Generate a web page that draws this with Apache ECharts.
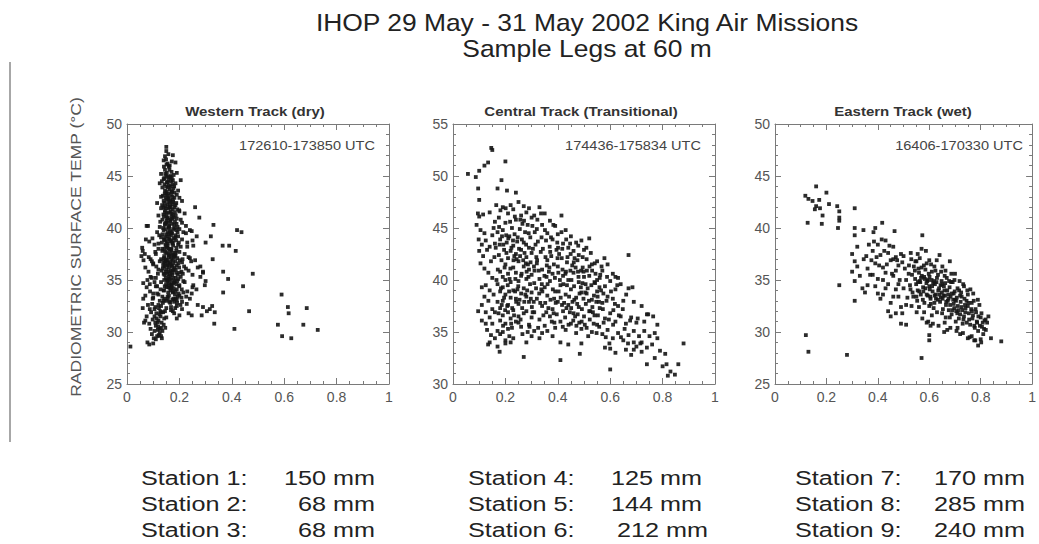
<!DOCTYPE html>
<html>
<head>
<meta charset="utf-8">
<script src="https://cdn.jsdelivr.net/npm/echarts@6/dist/echarts.min.js"></script>
<style>
html,body{margin:0;padding:0;background:#fff;}
#chart{width:1039px;height:544px;}
</style>
</head>
<body>
<div id="chart"></div>
<script>
// ---------------- DATA ----------------
const titleLines = ["IHOP 29 May - 31 May 2002 King Air Missions", "Sample Legs at 60 m"];
const yAxisName = "RADIOMETRIC SURFACE TEMP (\u00B0C)";
const panelTitles = ["Western Track (dry)", "Central Track (Transitional)", "Eastern Track (wet)"];
const utcLabels = ["172610-173850 UTC", "174436-175834 UTC", "16406-170330 UTC"];
const xTicks = [0, 0.2, 0.4, 0.6, 0.8, 1];
const yMins = [25, 30, 25];
const yMaxs = [50, 55, 50];
const stationNames = [["Station 1:", "Station 2:", "Station 3:"], ["Station 4:", "Station 5:", "Station 6:"], ["Station 7:", "Station 8:", "Station 9:"]];
const stationAmounts = [["150 mm", "68 mm", "68 mm"], ["125 mm", "144 mm", "212 mm"], ["170 mm", "285 mm", "240 mm"]];

const westTrack = [
[0.15,47.8],[0.15,47.4],[0.145,46.9],[0.14,46.5],[0.155,46.2],[0.16,45.9],[0.145,45.6],[0.17,45.4],[0.13,45.2],[0.15,45.0],[0.165,44.9],[0.175,44.6],[0.14,44.7],[0.125,44.3],[0.155,44.4],[0.16,44.1],[0.18,44.0],[0.135,43.9],[0.145,43.6],[0.17,43.5],[0.15,43.3],[0.19,43.2],[0.13,43.0],[0.16,42.9],[0.175,42.7],[0.14,42.6],[0.115,42.4],[0.155,42.3],[0.185,42.2],[0.165,42.0],[0.13,41.9],[0.145,41.7],[0.2,41.6],[0.16,41.5],[0.175,41.3],[0.12,41.2],[0.15,41.1],[0.19,40.9],[0.135,40.8],[0.165,40.7],[0.21,40.5],[0.145,40.4],[0.18,40.3],[0.125,40.1],[0.16,40.0],[0.2,39.9],[0.14,39.8],[0.17,39.6],[0.225,39.5],[0.15,39.4],[0.185,39.3],[0.13,39.1],[0.16,39.0],[0.21,38.9],[0.145,38.8],[0.175,38.6],[0.12,38.5],[0.195,38.4],[0.155,38.3],[0.23,38.2],[0.135,38.0],[0.17,37.9],[0.2,37.7],[0.15,37.6],[0.11,37.5],[0.185,37.4],[0.16,37.2],[0.24,37.1],[0.13,37.0],[0.175,36.9],[0.21,36.7],[0.145,36.6],[0.1,36.5],[0.19,36.4],[0.16,36.2],[0.225,36.1],[0.12,36.0],[0.175,35.9],[0.2,35.7],[0.14,35.6],[0.25,35.5],[0.165,35.4],[0.09,35.3],[0.185,35.2],[0.155,35.0],[0.215,34.9],[0.13,34.8],[0.17,34.6],[0.2,34.5],[0.11,34.4],[0.16,34.3],[0.19,34.1],[0.14,34.0],[0.23,33.9],[0.175,33.8],[0.12,33.6],[0.2,33.5],[0.155,33.4],[0.1,33.3],[0.185,33.2],[0.14,33.0],[0.21,32.9],[0.165,32.8],[0.12,32.6],[0.19,32.5],[0.15,32.3],[0.105,32.2],[0.175,32.0],[0.13,31.9],
[0.152,45.3],[0.171,44.8],[0.143,44.2],[0.163,43.7],[0.181,43.4],[0.137,43.1],[0.158,42.8],[0.176,42.5],[0.146,42.1],[0.192,41.8],[0.167,41.6],[0.139,41.3],[0.154,40.9],[0.183,40.6],[0.161,40.2],[0.147,39.9],[0.172,39.5],[0.195,39.2],[0.141,38.9],[0.166,38.7],[0.153,38.1],[0.188,37.8],[0.142,37.3],[0.169,37.0],[0.157,36.5],[0.182,36.2],[0.148,35.8],[0.173,35.5],[0.196,35.1],[0.161,34.7],[0.144,34.4],[0.178,34.2],
[0.149,44.0],[0.158,44.6],[0.168,43.2],[0.147,42.9],[0.173,42.3],[0.159,41.9],[0.186,41.2],[0.151,40.7],[0.171,40.4],[0.138,40.0],[0.164,39.7],[0.184,39.1],[0.155,38.5],[0.176,38.3],[0.146,37.7],[0.161,37.5],[0.192,37.1],[0.151,36.8],[0.171,36.4],[0.137,36.1],[0.188,35.7],[0.159,35.3],[0.142,35.0],[0.181,34.8],[0.166,34.0],[0.197,33.7],
[0.162,45.6],[0.141,45.9],[0.178,45.1],[0.157,44.9],[0.133,44.5],[0.185,44.3],[0.166,44.0],[0.151,43.5],[0.174,43.0],[0.143,42.4],[0.162,42.0],[0.199,41.7],[0.178,41.0],[0.149,40.5],[0.193,40.1],[0.168,39.3],[0.145,39.1],[0.187,38.8],[0.159,38.0],[0.174,37.6],[0.141,37.1],[0.202,36.9],[0.163,36.7],[0.178,36.0],[0.153,35.6],[0.205,35.3],[0.168,35.0],[0.188,34.6],[0.151,34.3],[0.174,33.9],[0.16,33.5],
[0.171,46.4],[0.163,46.0],[0.149,46.6],[0.156,43.9],[0.181,42.9],[0.134,42.2],[0.169,41.4],[0.156,41.0],[0.145,40.3],[0.176,39.9],[0.161,39.4],[0.198,38.6],[0.149,38.3],[0.168,38.0],[0.135,37.8],[0.182,37.3],[0.155,36.9],[0.196,36.6],[0.144,36.3],[0.166,35.9],[0.213,35.6],[0.176,35.2],[0.154,34.9],[0.199,34.4],[0.165,34.2],[0.183,33.6],[0.208,33.3],[0.173,33.1],[0.191,32.8],
[0.158,47.1],[0.166,45.0],[0.152,44.4],[0.174,44.2],[0.144,43.3],[0.165,42.6],[0.188,42.4],[0.152,41.4],[0.175,41.8],[0.141,41.1],[0.167,40.8],[0.189,40.4],[0.156,39.6],[0.179,39.0],[0.152,38.7],[0.189,38.1],[0.163,37.8],[0.176,37.4],[0.148,37.0],[0.185,36.8],[0.171,36.3],[0.159,35.8],[0.193,35.5],[0.148,35.2],[0.182,34.9],[0.171,34.5],[0.209,34.1],[0.157,33.8],[0.193,33.4],[0.18,32.9],[0.204,32.6],[0.168,32.4],
[0.142,44.8],[0.168,44.5],[0.153,43.1],[0.177,43.8],[0.139,42.0],[0.161,42.5],[0.183,41.5],[0.148,41.9],[0.171,41.1],[0.157,40.5],[0.136,39.4],[0.181,40.0],[0.163,38.9],[0.147,38.4],[0.171,38.8],[0.193,39.6],[0.158,37.4],[0.139,36.7],[0.179,37.2],[0.165,36.6],[0.151,36.0],[0.186,36.0],[0.172,35.7],[0.143,35.5],[0.162,35.1],[0.192,34.9],[0.149,34.6],[0.17,34.3],[0.185,33.9],[0.156,33.2],
[0.151,46.1],[0.146,45.2],[0.172,43.5],[0.158,43.3],[0.164,42.2],[0.18,42.0],[0.152,42.7],[0.173,40.9],[0.145,41.5],[0.16,40.1],[0.188,39.8],[0.154,39.2],[0.173,38.5],[0.143,38.0],[0.167,37.3],[0.185,37.6],[0.153,36.4],[0.176,36.6],[0.145,36.9],[0.163,35.6],[0.199,36.2],[0.176,34.7],[0.158,34.5],[0.141,34.0],[0.177,33.2],[0.162,32.9],[0.19,33.1],[0.15,33.0],[0.168,32.1],[0.184,32.3],
[0.075,40.2],[0.085,38.7],[0.06,37.8],[0.055,37.3],[0.068,37.5],[0.09,37.0],[0.105,38.4],[0.115,39.6],[0.1,36.6],[0.07,36.2],[0.082,35.8],[0.112,36.3],[0.095,35.2],[0.062,34.7],[0.075,34.3],[0.105,34.8],[0.118,35.6],[0.088,33.9],[0.07,33.5],[0.098,33.2],[0.115,33.7],[0.08,32.6],[0.06,32.3],[0.092,31.9],[0.108,32.4],[0.125,33.0],[0.075,31.5],[0.098,31.2],[0.085,30.8],[0.065,30.9],[0.11,30.6],[0.12,31.1],[0.105,30.1],[0.095,29.8],[0.115,29.6],[0.125,29.9],[0.13,30.4],[0.102,29.4],[0.118,30.2],[0.09,30.3],[0.128,31.5],[0.138,31.9],[0.132,30.9],[0.112,31.8],[0.122,32.3],[0.096,32.7],[0.128,34.1],[0.083,37.2],[0.097,39.0],[0.12,38.0],[0.125,36.8],[0.11,35.2],[0.132,35.9],[0.063,36.9],[0.058,38.1],[0.072,38.9],[0.087,34.6],[0.1,33.7],[0.135,33.4],[0.13,32.5],[0.105,31.5],[0.14,30.7],[0.117,30.9],[0.087,32.2],[0.078,35.0],[0.062,33.2],[0.095,36.8],[0.108,37.7],[0.123,39.3],[0.127,40.6],[0.133,38.6],[0.138,36.4],[0.142,33.2],[0.145,32.0],[0.15,31.4],[0.13,29.6],[0.11,29.3],[0.078,29.0],[0.085,28.8],[0.1,28.9],[0.013,28.6],[0.07,31.1],[0.115,34.4],
[0.125,30.3],[0.135,30.1],[0.113,31.3],[0.127,32.0],[0.137,32.8],[0.142,31.3],[0.146,30.4],[0.121,29.7],[0.133,29.4],[0.108,30.9],[0.119,30.5],[0.124,31.7],
[0.215,39.6],[0.23,38.6],[0.22,37.5],[0.245,36.8],[0.235,35.9],[0.22,34.8],[0.25,34.3],[0.215,33.8],[0.24,33.2],[0.228,32.7],[0.26,36.9],[0.27,36.2],[0.28,35.3],[0.265,34.1],[0.29,35.8],[0.3,34.9],[0.21,42.6],[0.22,41.4],[0.205,40.8],[0.225,40.2],[0.24,39.8],[0.212,37.0],[0.205,38.2],[0.235,37.2],[0.25,38.8],[0.218,36.3],[0.208,35.8],[0.226,33.4],[0.21,32.2],[0.235,31.8],[0.2,31.6],[0.19,31.3],[0.18,31.8],[0.195,43.6],[0.205,44.6],[0.19,45.3],[0.185,46.3],[0.175,47.0],[0.2,42.9],
[0.08,40.2],[0.26,42.0],[0.276,41.0],[0.33,40.3],[0.32,39.2],[0.30,38.6],[0.365,38.3],[0.39,38.3],[0.42,39.8],[0.437,39.6],[0.415,37.8],[0.327,37.0],[0.367,35.8],[0.386,35.1],[0.48,35.6],[0.443,34.4],[0.367,33.8],[0.333,30.8],[0.41,30.3],[0.466,32.0],[0.59,33.6],[0.614,32.4],[0.617,31.8],[0.686,32.3],[0.576,30.7],[0.592,29.6],[0.627,29.4],[0.673,30.7],[0.728,30.2],
[0.27,32.6],[0.29,32.4],[0.316,32.2],[0.335,31.9],[0.247,31.6],[0.285,31.6],[0.247,33.7],[0.253,34.5],[0.28,36.3],[0.29,35.7],[0.297,34.5],[0.253,38.3],[0.266,39.2],[0.247,39.7],[0.305,32.0],[0.325,32.5]
];

const centralTrack = [
[0.057,50.2],[0.087,49.9],[0.1,50.5],[0.12,51.0],[0.134,51.3],[0.146,52.7],[0.15,52.5],[0.2,51.4],[0.185,49.6],[0.17,48.8],[0.206,48.6],[0.24,48.4],[0.096,48.8],[0.1,47.7],[0.095,46.4],[0.1,46.1],[0.115,46.3],[0.09,45.3],[0.105,44.8],[0.12,44.5],[0.098,43.9],[0.11,43.4],[0.125,43.8],[0.1,42.8],[0.115,42.3],[0.13,42.9],[0.105,41.6],[0.12,41.1],[0.135,40.7],[0.11,39.3],[0.125,39.5],[0.096,37.0],[0.12,38.4],[0.135,38.0],[0.11,36.1],[0.125,35.8],[0.14,36.4],[0.13,35.2],[0.145,34.7],[0.134,33.8],[0.178,33.1],[0.16,34.4],[0.17,35.1],[0.15,37.2],[0.14,39.0],[0.15,40.2],[0.145,41.8],[0.14,43.2],[0.15,44.3],[0.16,45.6],[0.14,46.5],[0.175,46.0],[0.165,47.2],[0.19,47.0],[0.155,45.0],[0.16,43.5],
[0.17,44.6],[0.18,43.9],[0.19,44.8],[0.2,45.5],[0.21,46.4],[0.22,47.2],[0.23,46.8],[0.25,47.5],[0.26,46.2],[0.27,47.1],[0.28,46.5],[0.29,46.9],[0.3,46.0],[0.24,45.8],[0.175,42.4],[0.185,41.9],[0.195,42.9],[0.205,43.6],[0.215,44.2],[0.225,45.0],[0.235,44.4],[0.245,43.7],[0.255,44.9],[0.265,45.4],[0.275,44.6],[0.285,45.3],[0.295,44.1],[0.18,40.8],[0.19,40.3],[0.2,41.5],[0.21,42.1],[0.22,42.8],[0.23,43.3],[0.24,42.5],[0.25,41.8],[0.26,42.9],[0.27,43.6],[0.28,42.2],[0.29,43.1],[0.3,42.6],[0.17,39.6],[0.18,38.9],[0.19,39.3],[0.2,40.0],[0.21,40.6],[0.22,39.8],[0.23,41.2],[0.24,40.7],[0.25,39.9],[0.26,40.4],[0.27,41.3],[0.28,40.1],[0.29,41.0],[0.3,40.5],[0.17,37.9],[0.18,37.3],[0.19,38.0],[0.2,38.6],[0.21,37.6],[0.22,38.3],[0.23,39.0],[0.24,38.2],[0.25,37.7],[0.26,38.7],[0.27,39.2],[0.28,38.4],[0.29,37.9],[0.3,38.8],[0.18,36.1],[0.19,36.6],[0.2,35.8],[0.21,36.9],[0.22,36.3],[0.23,37.1],[0.24,36.0],[0.25,36.5],[0.26,35.5],[0.27,36.8],[0.28,37.0],[0.29,35.7],[0.3,36.4],[0.19,35.0],[0.2,34.2],[0.215,34.6],[0.225,35.4],[0.265,34.8],[0.27,32.6],[0.285,35.0],[0.3,34.6],
[0.31,46.2],[0.33,47.0],[0.35,46.4],[0.37,45.7],[0.39,45.2],[0.414,46.2],[0.43,44.8],[0.45,44.2],[0.47,43.6],[0.49,43.8],[0.52,44.0],[0.32,44.9],[0.34,45.3],[0.36,44.5],[0.38,43.9],[0.4,44.4],[0.42,43.5],[0.44,43.1],[0.46,42.8],[0.48,42.4],[0.5,42.9],[0.315,43.4],[0.335,42.7],[0.355,43.8],[0.375,42.3],[0.395,42.9],[0.415,42.1],[0.435,41.7],[0.455,41.4],[0.475,41.9],[0.495,41.2],[0.32,41.6],[0.34,41.0],[0.36,41.9],[0.38,40.6],[0.4,41.3],[0.42,40.4],[0.44,40.0],[0.46,40.7],[0.48,39.8],[0.5,40.3],[0.31,39.7],[0.33,40.1],[0.35,39.3],[0.37,39.9],[0.39,38.9],[0.41,39.5],[0.43,38.6],[0.45,39.1],[0.47,38.3],[0.49,38.8],[0.32,38.2],[0.34,37.5],[0.36,38.5],[0.38,37.2],[0.4,37.9],[0.42,37.0],[0.44,37.6],[0.46,36.8],[0.48,37.4],[0.5,36.5],[0.31,36.9],[0.33,36.2],[0.35,35.6],[0.37,36.5],[0.39,35.4],[0.41,36.0],[0.43,35.2],[0.45,35.8],[0.47,34.9],[0.49,35.3],[0.34,34.9],[0.36,35.1],[0.38,34.6],[0.41,34.0],[0.44,33.8],[0.41,32.3],[0.484,32.9],[0.49,33.9],
[0.51,42.0],[0.53,41.5],[0.55,41.8],[0.57,40.9],[0.59,41.5],[0.61,40.6],[0.63,40.2],[0.67,42.4],[0.52,40.4],[0.54,39.8],[0.56,40.2],[0.58,39.4],[0.6,39.9],[0.62,39.1],[0.64,39.6],[0.67,39.2],[0.685,39.3],[0.51,38.7],[0.53,38.1],[0.55,38.9],[0.57,37.8],[0.59,38.4],[0.61,38.2],[0.63,37.5],[0.65,38.0],[0.69,37.9],[0.52,37.0],[0.54,36.6],[0.56,37.3],[0.58,36.3],[0.6,36.8],[0.62,36.0],[0.64,36.5],[0.66,35.8],[0.68,36.4],[0.7,35.9],[0.51,35.4],[0.53,35.0],[0.55,35.7],[0.57,34.8],[0.59,35.2],[0.61,34.4],[0.63,34.9],[0.65,34.2],[0.67,34.7],[0.69,34.0],[0.58,33.5],[0.6,33.4],[0.62,33.0],[0.66,33.3],[0.68,32.8],[0.6,31.4],[0.7,33.6],[0.715,33.9],
[0.72,37.5],[0.74,36.7],[0.745,36.7],[0.764,36.5],[0.78,35.7],[0.73,35.1],[0.75,34.6],[0.77,34.9],[0.78,34.4],[0.72,34.0],[0.74,33.5],[0.76,33.8],[0.79,33.2],[0.74,31.9],[0.815,31.9],[0.8,31.7],[0.86,31.9],[0.847,30.9],[0.82,30.8],[0.83,31.2],[0.88,33.9],[0.81,32.9],[0.77,32.5],
[0.163,43.1],[0.187,44.2],[0.204,42.6],[0.218,45.6],[0.231,41.9],[0.247,44.1],[0.262,40.6],[0.279,43.4],[0.296,41.7],[0.312,44.6],[0.327,40.9],[0.343,43.0],[0.358,41.4],[0.374,44.1],[0.389,40.2],[0.405,42.5],[0.421,39.6],[0.437,42.2],[0.452,40.0],[0.468,41.2],[0.483,38.7],[0.498,40.8],[0.514,39.2],[0.531,40.9],[0.547,37.9],
[0.171,41.0],[0.195,38.3],[0.209,39.5],[0.226,37.3],[0.238,40.1],[0.254,38.1],[0.268,41.9],[0.283,39.0],[0.301,37.4],[0.317,39.2],[0.333,37.8],[0.349,40.4],[0.364,37.3],[0.381,39.1],[0.396,36.7],[0.411,38.3],[0.428,36.4],[0.443,38.4],[0.459,36.1],[0.474,37.7],[0.491,36.0],[0.507,37.7],[0.522,36.2],[0.538,38.5],[0.553,36.6],
[0.158,42.2],[0.176,45.1],[0.192,43.4],[0.211,44.0],[0.229,43.8],[0.243,42.0],[0.257,45.8],[0.273,42.6],[0.289,44.5],[0.305,43.0],[0.322,45.8],[0.338,44.1],[0.353,42.2],[0.369,43.2],[0.385,41.5],[0.401,43.1],[0.418,41.0],[0.432,43.9],[0.448,40.9],[0.464,42.1],[0.479,40.3],[0.495,42.2],[0.511,40.9],[0.526,42.6],[0.542,39.7],
[0.166,40.0],[0.183,39.2],[0.199,37.1],[0.214,38.9],[0.233,36.6],[0.249,39.4],[0.264,37.3],[0.281,40.8],[0.297,38.2],[0.311,40.9],[0.329,38.7],[0.345,36.6],[0.361,39.6],[0.377,36.0],[0.392,37.8],[0.408,40.0],[0.424,37.8],[0.441,35.7],[0.456,37.9],[0.471,35.6],[0.488,39.3],[0.503,35.7],[0.519,38.0],[0.534,36.9],[0.557,37.9],
[0.181,46.7],[0.201,46.9],[0.223,43.1],[0.236,46.1],[0.252,43.0],[0.271,45.7],[0.286,41.5],[0.303,45.2],[0.318,42.2],[0.336,46.4],[0.351,44.8],[0.366,40.8],[0.383,45.3],[0.398,43.6],[0.414,44.6],[0.431,40.8],[0.447,43.5],[0.462,39.4],[0.478,43.3],[0.494,39.7],[0.509,43.1],[0.528,39.5],[0.544,40.6],[0.562,40.5],[0.578,42.1],
[0.155,38.6],[0.174,36.8],[0.191,35.6],[0.207,37.5],[0.222,35.8],[0.241,37.9],[0.258,36.2],[0.276,38.6],[0.292,35.5],[0.308,37.9],[0.325,35.4],[0.341,38.9],[0.356,36.9],[0.372,38.1],[0.387,35.9],[0.403,38.9],[0.419,35.5],[0.435,39.5],[0.451,37.3],[0.466,36.5],[0.482,35.9],[0.498,38.2],[0.516,34.6],[0.532,37.4],[0.548,34.9],
[0.565,39.0],[0.572,37.2],[0.588,40.3],[0.595,36.2],[0.603,38.9],[0.611,35.7],[0.618,37.7],[0.627,39.5],[0.633,36.6],[0.641,34.5],[0.648,37.2],[0.655,35.3],[0.661,38.6],[0.668,33.9],[0.676,36.1],[0.583,34.5],[0.597,33.9],[0.612,37.1],[0.575,35.9],[0.567,41.3],[0.586,38.0],[0.62,40.3],[0.55,40.0],[0.558,35.5],[0.69,35.1],[0.705,36.3],[0.71,34.6],[0.72,33.1],[0.73,36.0],[0.69,33.3],
[0.11,37.6],[0.125,36.9],[0.15,35.8],[0.16,36.9],[0.18,34.8],[0.2,33.9],[0.21,35.3],[0.23,34.4],[0.25,35.9],[0.28,34.0],[0.31,35.1],[0.33,34.4],[0.14,34.0],[0.17,33.6],[0.22,34.0],
[0.178,43.4],[0.197,41.2],[0.216,40.1],[0.234,42.3],[0.246,39.1],[0.263,43.9],[0.278,41.6],[0.294,39.6],[0.309,41.3],[0.324,43.7],[0.339,39.6],[0.357,40.3],[0.371,42.7],[0.386,38.2],[0.402,40.7],[0.417,43.0],[0.433,37.3],[0.449,42.5],[0.463,38.1],[0.477,40.8],[0.492,37.2],[0.506,39.6],[0.521,41.3],[0.537,35.8],[0.552,38.4],
[0.186,37.6],[0.203,44.3],[0.219,41.1],[0.237,38.9],[0.256,42.3],[0.272,37.9],[0.288,40.3],[0.304,36.9],[0.321,41.9],[0.337,39.1],[0.352,37.8],[0.368,41.2],[0.384,36.8],[0.399,42.1],[0.416,37.6],[0.429,40.6],[0.446,36.9],[0.461,41.7],[0.476,36.7],[0.489,40.9],[0.505,38.8],[0.524,37.0],[0.541,41.6],[0.559,39.3],[0.574,38.7]
];

const easternTrack = [
[0.12,29.7],[0.13,28.1],[0.28,27.8],[0.57,27.5],[0.25,34.5],[0.31,33.0],[0.16,44.0],[0.118,43.1],[0.13,42.8],[0.146,42.6],[0.16,42.1],[0.172,42.7],[0.155,41.8],[0.175,41.9],[0.2,43.4],[0.21,42.3],[0.127,40.5],[0.185,41.2],[0.182,40.4],[0.242,42.1],[0.25,41.6],[0.25,41.0],[0.25,40.7],[0.245,40.0],[0.31,41.9],[0.31,40.0],[0.31,39.3],[0.344,39.8],[0.39,40.0],[0.383,39.6],[0.417,40.5],[0.465,39.7],[0.573,39.3],[0.88,29.1],[0.84,29.4],[0.79,28.7],[0.75,29.4],[0.765,29.6],[0.67,30.2],[0.51,30.7],[0.45,31.5],
[0.3,37.5],[0.31,36.8],[0.32,36.3],[0.3,35.8],[0.33,35.4],[0.31,34.9],[0.34,34.2],[0.32,38.2],[0.345,37.0],[0.36,36.1],[0.37,35.5],[0.35,33.8],[0.38,37.8],[0.39,36.6],[0.4,38.4],[0.41,37.4],[0.42,36.2],[0.4,35.1],[0.39,34.4],[0.42,33.6],[0.43,38.8],[0.44,37.6],[0.45,36.9],[0.43,35.7],[0.44,34.6],[0.41,33.2],[0.45,32.8],[0.44,32.0],[0.46,38.2],[0.47,37.2],[0.48,36.4],[0.46,35.4],[0.47,34.1],[0.48,33.4],[0.49,32.4],[0.47,31.8],
[0.5,37.3],[0.505,36.1],[0.51,35.0],[0.5,34.2],[0.515,33.3],[0.495,36.7],[0.52,35.6],[0.525,34.5],[0.53,37.0],[0.535,33.8],[0.51,32.6],[0.54,36.3],
[0.545,35.1],[0.55,36.8],[0.555,34.0],[0.56,35.7],[0.55,33.4],[0.565,34.8],[0.57,36.2],[0.575,33.1],[0.56,32.4],[0.58,35.3],[0.585,34.2],[0.555,37.5],[0.57,38.0],[0.59,36.6],[0.59,33.6],[0.58,31.9],
[0.595,35.0],[0.6,34.4],[0.605,33.2],[0.61,35.8],[0.6,32.5],[0.615,34.7],[0.62,36.3],[0.625,33.6],[0.61,31.6],[0.63,35.2],[0.635,34.0],[0.62,32.8],[0.64,37.4],[0.645,33.3],[0.6,36.9],[0.605,30.6],[0.6,29.7],[0.6,29.2],[0.59,30.9],
[0.65,34.6],[0.655,33.5],[0.66,35.4],[0.665,32.6],[0.67,34.0],[0.65,31.8],[0.675,33.2],[0.68,36.8],[0.685,34.8],[0.66,30.9],[0.69,32.1],[0.695,33.7],[0.68,31.4],[0.7,35.6],
[0.7,33.1],[0.705,32.0],[0.71,34.2],[0.715,31.3],[0.72,33.5],[0.725,32.4],[0.73,30.8],[0.735,34.4],[0.74,31.9],[0.745,33.0],[0.71,30.4],[0.72,29.8],[0.75,32.5],[0.755,31.2],[0.76,34.1],
[0.765,32.8],[0.77,31.6],[0.775,30.6],[0.78,32.2],[0.785,31.0],[0.79,30.1],[0.795,32.6],[0.8,31.4],[0.805,30.5],[0.81,29.8],[0.815,31.1],[0.82,30.2],[0.825,30.9],[0.8,29.3],[0.83,31.5],[0.775,29.2],
[0.521,36.4],[0.527,34.1],[0.533,35.5],[0.538,33.4],[0.544,35.9],[0.549,34.6],[0.553,33.0],[0.558,36.1],[0.562,34.9],[0.567,33.6],[0.571,35.4],[0.576,34.3],[0.581,32.8],[0.585,36.0],[0.589,34.7],[0.594,33.5],[0.598,35.6],[0.602,34.1],
[0.606,32.7],[0.609,35.0],[0.613,33.9],[0.617,32.3],[0.622,34.6],[0.626,33.2],[0.63,31.9],[0.634,35.5],[0.638,34.2],[0.642,32.9],[0.646,35.8],[0.649,33.8],
[0.653,32.2],[0.657,34.4],[0.661,33.5],[0.664,31.4],[0.668,35.2],[0.672,33.0],[0.676,32.1],[0.679,34.3],[0.683,33.4],[0.687,31.7],[0.691,34.8],[0.695,32.7],
[0.699,33.9],[0.703,31.0],[0.707,33.3],[0.711,32.5],[0.716,34.0],[0.72,31.7],[0.724,33.8],[0.728,32.1],[0.733,31.2],[0.737,33.2],[0.741,32.3],[0.746,30.9],[0.75,33.6],[0.754,31.8],[0.759,30.7],[0.763,32.2],[0.768,31.3],[0.773,33.0],[0.777,30.4],[0.782,31.9],[0.786,30.9],[0.791,31.5],[0.797,30.6],[0.803,31.8],[0.808,30.9],[0.813,30.3],[0.819,31.2],
[0.528,37.6],[0.546,36.8],[0.563,37.1],[0.579,36.4],[0.587,37.8],[0.607,36.5],[0.624,35.9],[0.629,36.9],[0.651,36.3],[0.663,35.9],[0.686,35.6],[0.698,35.0],[0.718,34.9],[0.732,34.6],[0.748,34.0],[0.771,33.7],[0.789,33.1],
[0.531,32.5],[0.551,31.9],[0.573,31.3],[0.596,31.0],[0.614,30.8],[0.636,30.6],[0.658,30.0],[0.682,30.4],[0.706,30.1],[0.731,29.9],[0.757,29.5],[0.779,29.2],[0.802,29.0],
[0.556,34.8],[0.568,35.2],[0.577,33.9],[0.592,34.9],[0.604,33.4],[0.611,34.4],[0.621,33.5],[0.628,34.8],[0.639,33.6],[0.644,34.5],[0.652,33.2],[0.659,34.0],[0.666,32.9],[0.674,33.6],[0.681,32.6],[0.688,33.7],[0.697,32.3],[0.704,33.0],[0.713,32.1],[0.722,32.9],[0.561,33.9],[0.583,35.1],[0.601,35.3],[0.619,34.9],[0.633,33.1],[0.648,34.9],[0.662,34.7],[0.677,34.9],[0.693,33.1],[0.709,31.8],[0.726,33.4],[0.739,32.6],[0.752,32.8],[0.766,32.0],[0.735,31.5],
[0.355,37.3],[0.365,38.4],[0.375,36.9],[0.385,38.7],[0.395,37.2],[0.405,36.4],[0.415,38.9],[0.425,37.8],[0.435,36.5],[0.445,38.3],[0.455,35.6],[0.46,37.0],[0.47,35.9],[0.475,36.9],[0.485,35.0],[0.49,37.5],[0.42,35.0],[0.38,35.5],[0.36,34.5],[0.4,33.7],[0.43,34.2],[0.46,33.4],[0.48,34.6],[0.495,31.8],[0.49,30.8]
];

// ---------------- LAYOUT ----------------
const FONT = "Liberation Sans, Arial, sans-serif";
const gridLefts = [127, 453, 775];
const gridTop = 124, gridW = 262, gridH = 260;
const axisColor = '#7a7a7a';
const tracks = [westTrack, centralTrack, easternTrack];

const grids = gridLefts.map(l => ({left: l, top: gridTop, width: gridW, height: gridH, containLabel: false}));
const xAxes = [], yAxes = [];
gridLefts.forEach((_, i) => {
  ['bottom', 'top'].forEach(pos => {
    xAxes.push({
      type: 'value', gridIndex: i, position: pos, min: xTicks[0], max: xTicks[xTicks.length - 1],
      interval: xTicks[1] - xTicks[0],
      axisLine: {show: true, onZero: false, lineStyle: {color: axisColor, width: 1}},
      axisTick: {show: true, inside: true, length: 6, lineStyle: {color: axisColor}},
      minorTick: {show: true, splitNumber: 4, length: 3, lineStyle: {color: axisColor}},
      splitLine: {show: false},
      axisLabel: {show: pos === 'bottom', color: '#555', fontSize: 14, fontFamily: FONT, margin: 6}
    });
  });
  ['left', 'right'].forEach(pos => {
    yAxes.push({
      type: 'value', gridIndex: i, position: pos, min: yMins[i], max: yMaxs[i], interval: 5,
      axisLine: {show: true, onZero: false, lineStyle: {color: axisColor, width: 1}},
      axisTick: {show: true, inside: true, length: 6, lineStyle: {color: axisColor}},
      minorTick: {show: true, splitNumber: 5, length: 3, lineStyle: {color: axisColor}},
      splitLine: {show: false},
      axisLabel: {show: pos === 'left', color: '#555', fontSize: 14, fontFamily: FONT, margin: 5}
    });
  });
});

const series = tracks.map((d, i) => ({
  type: 'scatter', xAxisIndex: i * 2, yAxisIndex: i * 2, data: d,
  symbol: 'rect', symbolSize: 3.8, silent: true,
  itemStyle: {color: '#151515', opacity: 0.9}
}));

const graphics = [];
// slide border line
graphics.push({type: 'line', shape: {x1: 10, y1: 62, x2: 10, y2: 442}, style: {stroke: '#8a8a8a', lineWidth: 1.5}});
// main title
titleLines.forEach((t, k) => {
  graphics.push({type: 'text', x: 587, y: 22 + k * 26, scaleX: 1.1, style: {text: t, fontSize: 24, fontFamily: FONT, fill: '#222', align: 'center', verticalAlign: 'middle'}});
});
// y axis name
graphics.push({type: 'text', x: 75, y: 247, rotation: Math.PI / 2, scaleX: 1.17, style: {text: yAxisName, fontSize: 15, fontFamily: FONT, fill: '#555', align: 'center', verticalAlign: 'middle'}});
// panel titles and UTC labels
gridLefts.forEach((l, i) => {
  graphics.push({type: 'text', x: l + gridW / 2 - 3, y: 112, scaleX: 1.25, style: {text: panelTitles[i], fontSize: 12, fontWeight: 'bold', fontFamily: FONT, fill: '#333', align: 'center', verticalAlign: 'middle'}});
  graphics.push({type: 'text', x: l + gridW - 14, y: 146, scaleX: 1.12, style: {text: utcLabels[i], fontSize: 13, fontFamily: FONT, fill: '#444', align: 'right', verticalAlign: 'middle'}});
});
// station texts
const stationNameX = [141, 468, 795];
const stationAmtRight = [[375, 375, 375], [702, 702, 708], [1025, 1025, 1025]];
stationNames.forEach((col, c) => {
  col.forEach((name, r) => {
    const y = 478 + r * 26;
    graphics.push({type: 'text', x: stationNameX[c], y: y, scaleX: 1.2, style: {text: name, fontSize: 21, fontFamily: FONT, fill: '#222', align: 'left', verticalAlign: 'middle'}});
    graphics.push({type: 'text', x: stationAmtRight[c][r], y: y, scaleX: 1.2, style: {text: stationAmounts[c][r], fontSize: 21, fontFamily: FONT, fill: '#222', align: 'right', verticalAlign: 'middle'}});
  });
});

const chart = echarts.init(document.getElementById('chart'), null, {renderer: 'svg'});
chart.setOption({
  animation: false,
  backgroundColor: '#fff',
  grid: grids,
  xAxis: xAxes,
  yAxis: yAxes,
  series: series,
  graphic: graphics
});
</script>
</body>
</html>
